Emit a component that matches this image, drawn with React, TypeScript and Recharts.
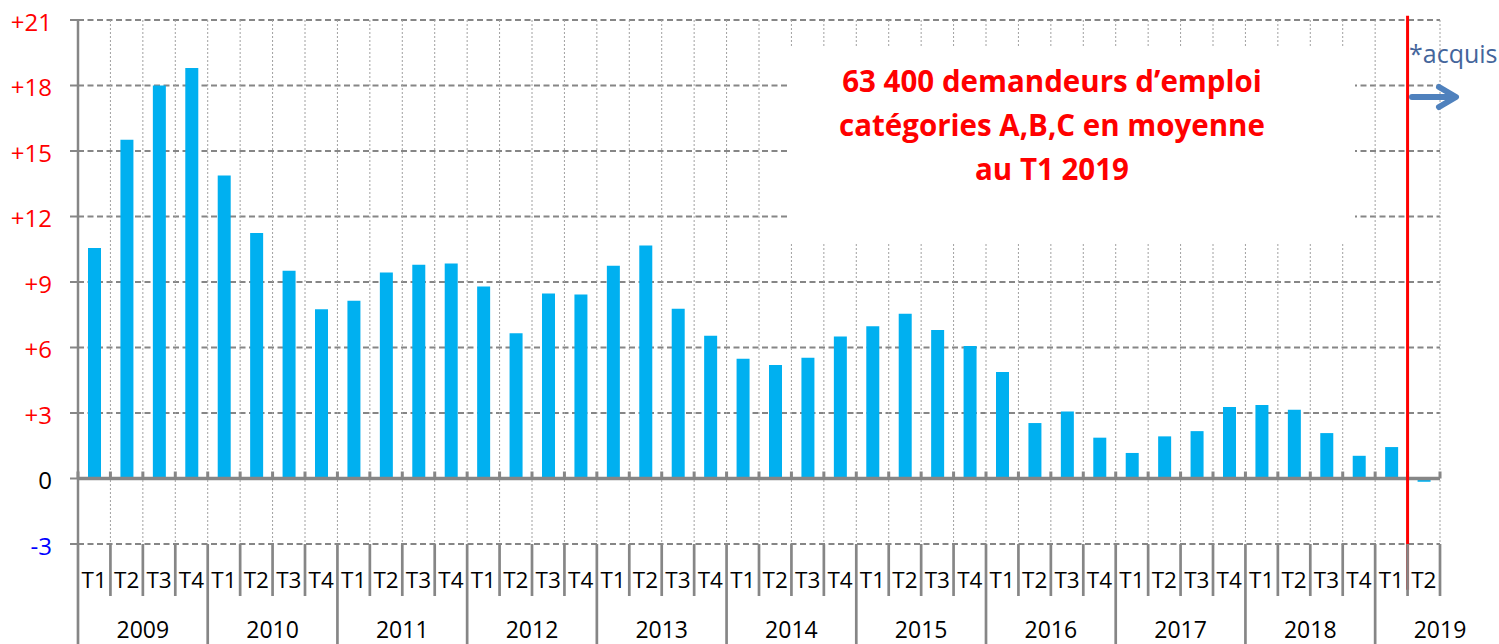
import React from 'react';
import { ComposedChart, Bar, XAxis, YAxis, CartesianGrid, ReferenceLine } from 'recharts';

const years = ['2009', '2010', '2011', '2012', '2013', '2014', '2015', '2016', '2017', '2018', '2019'];
const quarters = ['T1', 'T2', 'T3', 'T4'];

const v2009 = [10.56, 15.52, 18.0, 18.8];
const v2010 = [13.88, 11.25, 9.52, 7.75];
const v2011 = [8.14, 9.43, 9.79, 9.85];
const v2012 = [8.79, 6.65, 8.47, 8.43];
const v2013 = [9.75, 10.67, 7.78, 6.54];
const v2014 = [5.49, 5.2, 5.53, 6.5];
const v2015 = [6.97, 7.55, 6.8, 6.07];
const v2016 = [4.88, 2.54, 3.07, 1.87];
const v2017 = [1.17, 1.93, 2.17, 3.27];
const v2018 = [3.37, 3.15, 2.08, 1.04];
const v2019 = [1.44, -0.15];

const seriesByYear = [v2009, v2010, v2011, v2012, v2013, v2014, v2015, v2016, v2017, v2018, v2019];

const yTicks = [-3, 0, 3, 6, 9, 12, 15, 18, 21];
const yTickLabels = ['-3', '0', '+3', '+6', '+9', '+12', '+15', '+18', '+21'];

const annotationLines = ['63 400 demandeurs d\u2019emploi', 'cat\u00e9gories A,B,C en moyenne', 'au T1 2019'];
const acquisLabel = '*acquis';

const data: any[] = [];
seriesByYear.forEach((vals, yi) => {
  vals.forEach((v, qi) => {
    data.push({
      key: years[yi] + '-' + quarters[qi],
      quarter: quarters[qi],
      year: years[yi],
      qi,
      value: v,
      idx: data.length + 0.5,
    });
  });
});

const N = data.length;
const boundaries = Array.from({ length: N + 1 }, (_, i) => i);
const splitIndex = N - 1; // boundary between T1 2019 and T2 2019

const GRID = '#868686';
const FONT = '"Open Sans", "Liberation Sans", sans-serif';

const YTick = (props: any) => {
  const { x, y, payload } = props;
  const i = yTicks.indexOf(payload.value);
  const label = yTickLabels[i];
  const color = payload.value > 0 ? '#FF0000' : payload.value < 0 ? '#0000FF' : '#000000';
  return (
    <text x={x} y={y + 1} textAnchor="end" dominantBaseline="central" fill={color} fontSize={24} fontFamily={FONT}>
      {label}
    </text>
  );
};

const CatTick = (props: any) => {
  const { x, y, index, width } = props;
  const d = data[index];
  if (!d) return null;
  const bw = width / N;
  const xl = x - bw / 2;
  const xr = x + bw / 2;
  return (
    <g>
      <line x1={xl} y1={y} x2={xl} y2={d.qi === 0 ? y + 100 : y + 52} stroke={GRID} strokeWidth={2.7} />
      {index === N - 1 && <line x1={xr} y1={y} x2={xr} y2={y + 52} stroke={GRID} strokeWidth={2.7} />}
      <text x={x} y={y + 35} textAnchor="middle" dominantBaseline="central" fill="#000" fontSize={22.5} fontFamily={FONT}>
        {d.quarter}
      </text>
      {d.qi === 1 && (
        <text x={xr} y={y + 85} textAnchor="middle" dominantBaseline="central" fill="#000" fontSize={23} fontFamily={FONT}>
          {d.year}
        </text>
      )}
    </g>
  );
};

export default function App() {
  return (
    <div style={{ position: 'absolute', left: 0, top: 0, width: 1499, height: 644, background: '#fff' }}>
      <ComposedChart
        width={1499}
        height={644}
        data={data}
        margin={{ top: 20, right: 59, bottom: 0, left: 0 }}
        barCategoryGap={0}
      >
        <CartesianGrid vertical={false} xAxisId="cat" stroke={GRID} strokeWidth={1.8} strokeDasharray="6 3.5" />
        <CartesianGrid horizontal={false} xAxisId="num" stroke="#a0a0a0" strokeWidth={1} strokeDasharray="2 2" />
        <XAxis
          xAxisId="cat"
          dataKey="key"
          type="category"
          height={100}
          interval={0}
          axisLine={false}
          tickLine={false}
          tickSize={0}
          tickMargin={0}
          tick={<CatTick />}
        />
        <XAxis
          xAxisId="num"
          dataKey="idx"
          type="number"
          domain={[0, N]}
          ticks={boundaries}
          interval={0}
          hide
        />
        <YAxis
          domain={[-3, 21]}
          ticks={yTicks}
          interval={0}
          width={78}
          axisLine={{ stroke: GRID, strokeWidth: 2.5 }}
          tickLine={{ stroke: GRID, strokeWidth: 2 }}
          tickSize={8}
          tickMargin={18}
          tick={<YTick />}
        />
        <Bar xAxisId="cat" dataKey="value" fill="#00B0F0" barSize={13} isAnimationActive={false} />
        <ReferenceLine xAxisId="cat" y={0} stroke={GRID} strokeWidth={3.6} />
        {boundaries.map((b) => (
          <ReferenceLine
            key={'t' + b}
            xAxisId="num"
            segment={[{ x: b, y: 0 }, { x: b, y: 0.32 }]}
            stroke={GRID}
            strokeWidth={3}
            ifOverflow="visible"
          />
        ))}
        <ReferenceLine
          xAxisId="num"
          segment={[{ x: splitIndex, y: 21.2 }, { x: splitIndex, y: -5.09 }]}
          stroke="#FF0000"
          strokeWidth={3}
          ifOverflow="visible"
        />
      </ComposedChart>
      <svg width={1499} height={644} style={{ position: 'absolute', left: 0, top: 0, pointerEvents: 'none' }}>
        <rect x={790} y={47} width={565} height={195} fill="#fff" />
        {annotationLines.map((t, i) => (
          <text
            key={i}
            x={1052}
            y={92 + i * 44}
            textAnchor="middle"
            fill="#FF0000"
            fontSize={29.5}
            fontWeight="bold"
            fontFamily={FONT}
          >
            {t}
          </text>
        ))}
        <text x={1409} y={63} fill="#44659B" fontSize={25} fontFamily={FONT}>
          {acquisLabel}
        </text>
        <g stroke="#4F81BD" strokeWidth={6} fill="none" strokeLinecap="round" strokeLinejoin="round">
          <line x1={1412} y1={97} x2={1454} y2={97} />
          <polyline points="1439,87 1456,97 1439,107" />
        </g>
      </svg>
    </div>
  );
}
